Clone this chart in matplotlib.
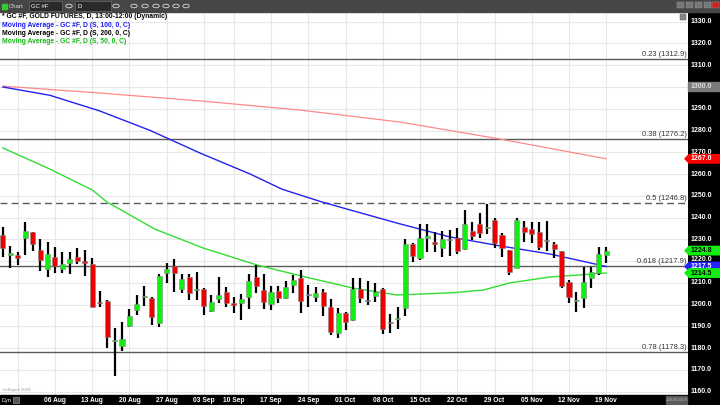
import matplotlib
matplotlib.use('Agg')
import matplotlib.pyplot as plt
from matplotlib.patches import Rectangle, Polygon, Circle

# ---------------- data ----------------
opens = [1232.0, 1223.0, 1222.6, 1230.8, 1233.2, 1225.1, 1216.2, 1222.0, 1216.2, 1219.0,
         1222.0, 1220.0, 1218.6, 1201.2, 1201.8, 1183.3, 1181.0, 1190.3, 1197.5, 1203.4,
         1203.2, 1191.7, 1214.7, 1217.9, 1207.0, 1212.7, 1206.5, 1207.2, 1197.2, 1202.6,
         1205.6, 1200.6, 1200.6, 1203.6, 1212.5, 1206.7, 1200.1, 1206.4, 1202.9, 1209.0,
         1212.1, 1204.4, 1203.5, 1205.6, 1199.0, 1187.1, 1196.3, 1192.9, 1207.2, 1201.8,
         1203.9, 1207.0, 1192.2, 1193.2, 1198.3, 1227.8, 1221.3, 1230.8, 1228.6, 1225.8,
         1229.5, 1230.8, 1225.4, 1234.0, 1236.9, 1235.2, 1238.9, 1232.0, 1225.1, 1217.0,
         1235.5, 1234.7, 1233.5, 1229.4, 1227.7, 1224.6, 1210.2, 1201.6, 1203.2, 1212.1,
         1214.4, 1222.8]
highs = [1235.5, 1226.9, 1224.0, 1238.0, 1233.5, 1230.1, 1228.6, 1226.3, 1224.3, 1224.0,
         1225.9, 1225.1, 1221.6, 1206.4, 1202.1, 1189.4, 1192.2, 1198.0, 1204.4, 1208.5,
         1203.6, 1214.1, 1219.3, 1220.8, 1214.1, 1214.1, 1215.1, 1207.5, 1204.4, 1212.8,
         1207.9, 1203.6, 1204.7, 1214.1, 1218.2, 1214.1, 1208.5, 1208.5, 1211.0, 1213.6,
         1215.9, 1209.0, 1208.2, 1207.0, 1202.6, 1198.3, 1196.7, 1212.4, 1212.4, 1210.8,
         1209.8, 1207.6, 1195.7, 1198.7, 1230.0, 1228.5, 1236.9, 1236.9, 1233.2, 1233.8,
         1234.5, 1235.0, 1243.5, 1238.1, 1241.9, 1246.1, 1239.6, 1232.7, 1225.3, 1239.6,
         1238.4, 1238.1, 1238.1, 1238.4, 1228.9, 1224.8, 1211.3, 1205.9, 1217.4, 1217.4,
         1226.3, 1226.6]
lows = [1222.0, 1217.0, 1218.2, 1222.8, 1224.6, 1215.4, 1212.8, 1214.7, 1214.5, 1214.0,
        1218.7, 1213.3, 1198.8, 1199.0, 1180.2, 1167.3, 1178.7, 1189.9, 1195.2, 1199.3,
        1190.5, 1189.5, 1209.8, 1205.9, 1205.2, 1202.1, 1202.1, 1195.2, 1196.4, 1200.6,
        1198.7, 1196.3, 1192.9, 1197.8, 1205.2, 1198.0, 1197.5, 1200.6, 1202.4, 1205.5,
        1196.3, 1198.7, 1201.3, 1194.8, 1186.0, 1184.5, 1188.3, 1192.5, 1200.6, 1199.8,
        1201.0, 1186.3, 1186.8, 1188.8, 1194.9, 1219.4, 1220.5, 1224.3, 1224.0, 1222.0,
        1222.5, 1223.1, 1225.1, 1229.7, 1230.8, 1232.3, 1225.9, 1221.7, 1213.6, 1216.7,
        1228.9, 1228.2, 1225.1, 1224.6, 1221.3, 1207.5, 1200.9, 1196.7, 1198.3, 1207.5,
        1213.6, 1219.0]
closes = [1225.8, 1223.3, 1221.6, 1233.8, 1227.8, 1220.3, 1223.2, 1217.9, 1218.5, 1221.1,
          1220.0, 1219.3, 1199.0, 1200.9, 1185.3, 1183.9, 1184.3, 1194.8, 1200.3, 1203.8,
          1194.3, 1213.3, 1216.2, 1214.7, 1211.6, 1205.5, 1206.8, 1199.3, 1201.3, 1204.3,
          1200.6, 1199.8, 1202.4, 1211.0, 1208.5, 1201.3, 1205.9, 1202.9, 1208.2, 1211.3,
          1201.8, 1204.4, 1205.2, 1199.3, 1187.6, 1196.3, 1192.2, 1207.0, 1203.2, 1201.8,
          1205.6, 1188.9, 1191.7, 1193.7, 1227.7, 1222.3, 1230.8, 1231.1, 1227.8, 1230.0,
          1229.5, 1224.6, 1236.9, 1231.5, 1232.7, 1235.8, 1228.2, 1225.9, 1215.1, 1238.9,
          1233.5, 1232.4, 1226.6, 1229.4, 1225.4, 1208.7, 1203.6, 1201.9, 1210.2, 1214.8,
          1223.1, 1224.8]

# moving averages (bar index, price)
ma100_idx = [0, 6.3, 13, 19.8, 26.5, 33.2, 37.5, 42.8, 46.6, 53.3, 60, 66.7, 73.5, 81]
ma100_val = [1300.0, 1296.2, 1289.0, 1280.0, 1269.6, 1260.0, 1253.0, 1247.2, 1243.5,
             1237.1, 1231.1, 1227.0, 1223.2, 1217.5]
ma200_idx = [0, 13.1, 26.5, 39.9, 53.3, 66.7, 81]
ma200_val = [1300.4, 1297.2, 1293.6, 1289.4, 1283.9, 1276.1, 1267.0]
ma50_idx = [0, 6.3, 12, 14, 20.4, 26.9, 34.1, 40.6, 47, 52.9, 60.7, 64.5, 68.1, 73.5, 81]
ma50_val = [1272.0, 1262.3, 1252.7, 1247.1, 1234.7, 1226.0, 1218.2, 1212.7, 1207.6,
            1204.4, 1205.5, 1206.7, 1210.0, 1212.7, 1214.5]

fib_levels = [1312.9, 1276.2, 1246.8, 1217.9, 1178.3]
fib_labels = ['0.23 (1312.9)', '0.38 (1276.2)', '0.5 (1246.8)', '0.618 (1217.9)', '0.78 (1178.3)']

week_idx = [7, 12, 17, 22, 27, 31, 36, 41, 46, 51, 56, 61, 66, 71, 76, 81]
week_lbl = ['06 Aug', '13 Aug', '20 Aug', '27 Aug', '03 Sep', '10 Sep', '17 Sep', '24 Sep',
            '01 Oct', '08 Oct', '15 Oct', '22 Oct', '29 Oct', '05 Nov', '12 Nov', '19 Nov']
grid_idx = [2] + week_idx
price_ticks = list(range(1160, 1331, 10))

# ---------------- figure ----------------
W, H = 720, 405
fig = plt.figure(figsize=(7.2, 4.05), dpi=100)
fig.patch.set_facecolor('white')
FONT = 'Liberation Sans'

def fx(x):
    return x / W

def fy(y):
    return (H - y) / H

ax = fig.add_axes([0, fy(395), fx(688), (395 - 12) / H])
ax.set_xlim(-0.376, 91.97)
ax.set_ylim(1158.45, 1334.46)
ax.set_facecolor('white')
for s in ax.spines.values():
    s.set_visible(False)
ax.set_xticks([])
ax.set_yticks([])

for p in price_ticks:
    ax.axhline(p, color='#e8e8e8', lw=0.8, zorder=0)
for g in grid_idx:
    ax.axvline(g, color='#e8e8e8', lw=0.8, zorder=0)

# fib lines
for lv, lb in zip(fib_levels, fib_labels):
    ls = (0, (5, 3)) if lb.startswith('0.5 ') else '-'
    ax.axhline(lv, color='#5a5a5a', lw=1.0, ls=ls, zorder=1)
    ax.text(91.8, lv + 0.3, lb, ha='right', va='bottom', fontsize=5.4,
            family=FONT, color='#333333', zorder=6)

# moving averages
ax.plot(ma200_idx, ma200_val, color='#ff8888', lw=0.9, zorder=2)
ax.plot(ma100_idx, ma100_val, color='#2222ee', lw=1.0, zorder=2)
ax.plot(ma50_idx, ma50_val, color='#33dd33', lw=1.0, zorder=2)

# candles
idx = list(range(len(opens)))
cols, bots, hts = [], [], []
for o, c in zip(opens, closes):
    if c > o:
        cols.append('#11ee11')
    elif c < o:
        cols.append('#ee0000')
    else:
        cols.append('#606060')
    bots.append(min(o, c))
    hts.append(max(abs(c - o), 0.5))
ax.vlines(idx, lows, highs, color='black', lw=1.6, zorder=3)
ax.bar(idx, hts, bottom=bots, width=0.68, color=cols, edgecolor='#8a8a8a',
       linewidth=0.4, zorder=4)

# legend text
leg = [('* GC #F, GOLD FUTURES, D, 13:00-12:00 (Dynamic)', 'black'),
       ('Moving Average - GC #F, D (S, 100, 0, C)', '#1a1aff'),
       ('Moving Average - GC #F, D (S, 200, 0, C)', 'black'),
       ('Moving Average - GC #F, D (S, 50, 0, C)', '#11bb11')]
for k, (t, c) in enumerate(leg):
    fig.text(fx(2), fy(17 + 8.3 * k), t, fontsize=4.9, family=FONT, weight='bold',
             color=c, va='center', ha='left')

fig.text(fx(2), fy(390.5), '\u00a9eSignal 2018', fontsize=3.2, family=FONT,
         color='#999999', va='center')

# ---------------- right axis ----------------
rax = fig.add_axes([fx(688), 0, fx(32), 1 - 0])
rax.set_facecolor('black')
rax.set_xticks([]); rax.set_yticks([])
for s in rax.spines.values():
    s.set_visible(False)
# top bar
fig.add_artist(Rectangle((0, fy(12)), 1, 12 / H, transform=fig.transFigure,
                         color='#464646', zorder=5))
# bottom strip
fig.add_artist(Rectangle((0, 0), fx(688), 10 / H, transform=fig.transFigure,
                         color='black', zorder=5))


def price_to_figy(p):
    disp = ax.transData.transform((0, p))
    return fig.transFigure.inverted().transform(disp)[1]


for p in price_ticks:
    if p == 1300:
        continue
    yy = price_to_figy(p)
    if p == 1220:
        yy += 1.5 / H
    fig.text(fx(691), yy, f'{p:.1f}', fontsize=5.0, family=FONT,
             weight='bold', color='white', va='center', ha='left', zorder=7)

# highlighted grey 1300 label
y13 = price_to_figy(1300)
fig.add_artist(Rectangle((fx(688), y13 - 4.5 / H), fx(32), 9 / H,
                         transform=fig.transFigure, color='#7a7a7a', zorder=6))
fig.text(fx(691), y13, '1300.0', fontsize=5.0, family=FONT, weight='bold',
         color='#dddddd', va='center', ha='left', zorder=7)

# value tags
tags = [(1267.0, '#ff0000', 'white'), (1224.8, '#11ee11', 'black'),
        (1217.5, '#2222ff', 'white'), (1214.5, '#11ee11', 'black')]
for val, bg, fg in tags:
    yy = price_to_figy(val)
    h = 4.2 / H
    poly = Polygon([(fx(685), yy), (fx(689), yy + h), (fx(720), yy + h),
                    (fx(720), yy - h), (fx(689), yy - h)], closed=True,
                   transform=fig.transFigure, color=bg, zorder=8)
    fig.add_artist(poly)
    fig.text(fx(691), yy, f'{val:.1f}', fontsize=5.0, family=FONT, weight='bold',
             color=fg, va='center', ha='left', zorder=9)

# date labels
for i, lb in zip(week_idx, week_lbl):
    xd = ax.transData.transform((i, 0))[0]
    xf = fig.transFigure.inverted().transform((xd, 0))[0]
    fig.text(xf, fy(400.5), lb, fontsize=4.8, family=FONT, weight='bold',
             color='white', ha='center', va='center', zorder=7)

fig.text(fx(2), fy(400.5), 'Dyn', fontsize=4.0, family=FONT, color='white',
         va='center', zorder=7)
fig.add_artist(Rectangle((fx(13), fy(403)), fx(6), 6 / H, transform=fig.transFigure,
                         facecolor='#555555', edgecolor='#aaaaaa', lw=0.4, zorder=7))
fig.add_artist(Rectangle((fx(666), fy(404)), fx(21), 8 / H, transform=fig.transFigure,
                         color='#5a5a5a', zorder=7))
fig.text(fx(676.5), fy(400), '12/04/2018', fontsize=3.2, family=FONT, color='#bbbbbb',
         ha='center', va='center', zorder=8)

# toolbar details
fig.add_artist(Rectangle((fx(2), fy(9)), fx(5), 5 / H, transform=fig.transFigure,
                         color='#33cc33', zorder=7))
fig.text(fx(9), fy(6), 'Chart', fontsize=4.3, family=FONT, color='#dddddd',
         va='center', zorder=7)
fig.add_artist(Rectangle((fx(29), fy(10.5)), fx(33), 9 / H, transform=fig.transFigure,
                         facecolor='#2a2a2a', edgecolor='#777777', lw=0.4, zorder=7))
fig.text(fx(31), fy(6), 'GC #F', fontsize=4.3, family=FONT, color='white',
         va='center', zorder=8)
fig.add_artist(Rectangle((fx(75), fy(10.5)), fx(36), 9 / H, transform=fig.transFigure,
                         facecolor='#2a2a2a', edgecolor='#777777', lw=0.4, zorder=7))
fig.text(fx(77), fy(6), 'D', fontsize=4.3, family=FONT, color='white',
         va='center', zorder=8)
for cx in [69, 116, 134, 145, 156, 166, 176, 186]:
    fig.add_artist(Circle((fx(cx), fy(6)), 3.2 / W, transform=fig.transFigure,
                          facecolor='none', edgecolor='#dddddd', lw=0.6, zorder=8))
for bx, c in [(677, '#777777'), (686, '#777777'), (695, '#777777'), (704, '#777777'),
              (712, '#cc2222')]:
    fig.add_artist(Rectangle((fx(bx), fy(8)), fx(7), 6 / H, transform=fig.transFigure,
                             facecolor=c, edgecolor='#999999', lw=0.3, zorder=8))
fig.add_artist(Rectangle((fx(680), fy(20)), fx(6), 6 / H, transform=fig.transFigure,
                         facecolor='#888888', edgecolor='#555555', lw=0.3, zorder=8))

fig.savefig('out.png', dpi=100, facecolor='white')
